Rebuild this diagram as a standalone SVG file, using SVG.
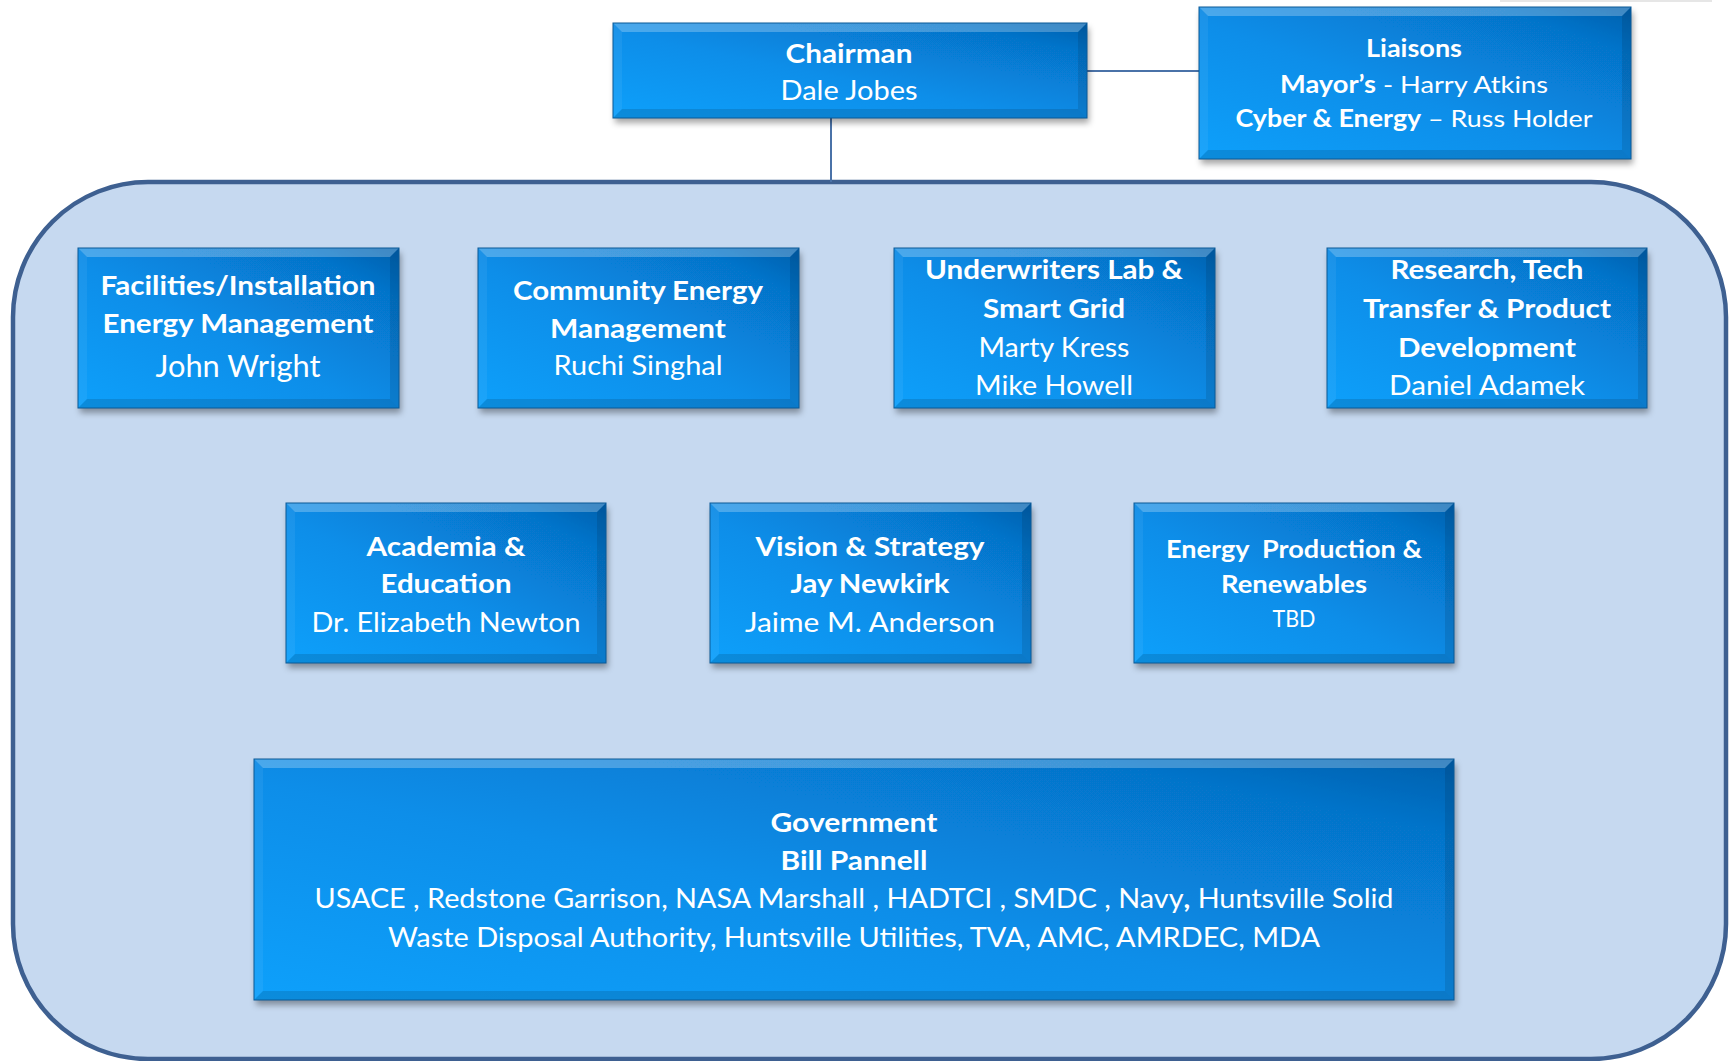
<svg xmlns="http://www.w3.org/2000/svg" width="1733" height="1061" viewBox="0 0 1733 1061">
<defs>
<linearGradient id="g" x1="0" y1="1" x2="1" y2="0">
<stop offset="0" stop-color="#0aa0fb"/>
<stop offset="0.45" stop-color="#088ee9"/>
<stop offset="0.85" stop-color="#0673c9"/>
<stop offset="1" stop-color="#0560ad"/>
</linearGradient>
<filter id="sh" x="-5%" y="-10%" width="112%" height="125%">
<feDropShadow dx="2" dy="5" stdDeviation="3" flood-color="#000" flood-opacity="0.35"/>
</filter>
</defs>
<style>
.face{fill:url(#g);filter:url(#sh)}
.bt{fill:#ffffff;fill-opacity:0.25}
.bl{fill:#ffffff;fill-opacity:0.06}
.br{fill:#000000;fill-opacity:0.1}
.bb{fill:#000000;fill-opacity:0.12}
.edge{fill:none;stroke:#0b5a98;stroke-width:1}
.conn{stroke:#4a72a8;stroke-width:2;fill:none}
text{fill:#ffffff;font-family:Lato,"Liberation Sans",sans-serif;text-anchor:middle}
.b{font-weight:bold;font-size:26px}
.r{font-weight:normal;font-size:26px}
</style>
<line x1="1500" y1="1" x2="1712" y2="1" stroke="#e6e6e6" stroke-width="2"/>
<rect id="container" x="13" y="182" width="1713" height="877" rx="135" ry="135" fill="#c6d9f0" stroke="#3e6091" stroke-width="4.5"/>
<g id="connectors">
<line class="conn" x1="831" y1="118" x2="831" y2="182"/>
<line class="conn" x1="1087" y1="71" x2="1199" y2="71"/>
</g>
<g id="chairman">
<rect class="face" x="613" y="23" width="474" height="95"/>
<polygon class="bt" points="613,23 1087,23 1078,32 622,32"/>
<polygon class="bl" points="613,23 622,32 622,109 613,118"/>
<polygon class="br" points="1087,23 1087,118 1078,109 1078,32"/>
<polygon class="bb" points="613,118 622,109 1078,109 1087,118"/>
<rect class="edge" x="613" y="23" width="474" height="95"/>
<text class="b" x="849" y="63" textLength="127" lengthAdjust="spacingAndGlyphs">Chairman</text>
<text class="r" x="849" y="100" textLength="137" lengthAdjust="spacingAndGlyphs">Dale Jobes</text>
</g>
<g id="liaisons">
<rect class="face" x="1199" y="7" width="432" height="152"/>
<polygon class="bt" points="1199,7 1631,7 1622,16 1208,16"/>
<polygon class="bl" points="1199,7 1208,16 1208,150 1199,159"/>
<polygon class="br" points="1631,7 1631,159 1622,150 1622,16"/>
<polygon class="bb" points="1199,159 1208,150 1622,150 1631,159"/>
<rect class="edge" x="1199" y="7" width="432" height="152"/>
<text class="b" x="1414" y="57" style="font-size:24px" textLength="96" lengthAdjust="spacingAndGlyphs">Liaisons</text>
<text class="r" x="1414" y="93" style="font-size:24px" textLength="268" lengthAdjust="spacingAndGlyphs"><tspan font-weight="bold">Mayor’s</tspan> - Harry Atkins</text>
<text class="r" x="1414" y="127" style="font-size:24px" textLength="357" lengthAdjust="spacingAndGlyphs"><tspan font-weight="bold">Cyber &amp; Energy</tspan> – Russ Holder</text>
</g>
<g id="facilities">
<rect class="face" x="78" y="248" width="321" height="160"/>
<polygon class="bt" points="78,248 399,248 390,257 87,257"/>
<polygon class="bl" points="78,248 87,257 87,399 78,408"/>
<polygon class="br" points="399,248 399,408 390,399 390,257"/>
<polygon class="bb" points="78,408 87,399 390,399 399,408"/>
<rect class="edge" x="78" y="248" width="321" height="160"/>
<text class="b" x="238" y="295" textLength="275" lengthAdjust="spacingAndGlyphs">Facilities/Installation</text>
<text class="b" x="238" y="333" textLength="271" lengthAdjust="spacingAndGlyphs">Energy Management</text>
<text class="r" x="238" y="377" style="font-size:31px" textLength="165" lengthAdjust="spacingAndGlyphs">John Wright</text>
</g>
<g id="community">
<rect class="face" x="478" y="248" width="321" height="160"/>
<polygon class="bt" points="478,248 799,248 790,257 487,257"/>
<polygon class="bl" points="478,248 487,257 487,399 478,408"/>
<polygon class="br" points="799,248 799,408 790,399 790,257"/>
<polygon class="bb" points="478,408 487,399 790,399 799,408"/>
<rect class="edge" x="478" y="248" width="321" height="160"/>
<text class="b" x="638" y="300" textLength="250" lengthAdjust="spacingAndGlyphs">Community Energy</text>
<text class="b" x="638" y="338" textLength="176" lengthAdjust="spacingAndGlyphs">Management</text>
<text class="r" x="638" y="375" textLength="169" lengthAdjust="spacingAndGlyphs">Ruchi Singhal</text>
</g>
<g id="underwriters">
<rect class="face" x="894" y="248" width="321" height="160"/>
<polygon class="bt" points="894,248 1215,248 1206,257 903,257"/>
<polygon class="bl" points="894,248 903,257 903,399 894,408"/>
<polygon class="br" points="1215,248 1215,408 1206,399 1206,257"/>
<polygon class="bb" points="894,408 903,399 1206,399 1215,408"/>
<rect class="edge" x="894" y="248" width="321" height="160"/>
<text class="b" x="1054" y="279" textLength="258" lengthAdjust="spacingAndGlyphs">Underwriters Lab &amp;</text>
<text class="b" x="1054" y="318" textLength="142" lengthAdjust="spacingAndGlyphs">Smart Grid</text>
<text class="r" x="1054" y="357" textLength="151" lengthAdjust="spacingAndGlyphs">Marty Kress</text>
<text class="r" x="1054" y="395" textLength="158" lengthAdjust="spacingAndGlyphs">Mike Howell</text>
</g>
<g id="research">
<rect class="face" x="1327" y="248" width="320" height="160"/>
<polygon class="bt" points="1327,248 1647,248 1638,257 1336,257"/>
<polygon class="bl" points="1327,248 1336,257 1336,399 1327,408"/>
<polygon class="br" points="1647,248 1647,408 1638,399 1638,257"/>
<polygon class="bb" points="1327,408 1336,399 1638,399 1647,408"/>
<rect class="edge" x="1327" y="248" width="320" height="160"/>
<text class="b" x="1487" y="279" textLength="193" lengthAdjust="spacingAndGlyphs">Research, Tech</text>
<text class="b" x="1487" y="318" textLength="248" lengthAdjust="spacingAndGlyphs">Transfer &amp; Product</text>
<text class="b" x="1487" y="357" textLength="178" lengthAdjust="spacingAndGlyphs">Development</text>
<text class="r" x="1487" y="395" textLength="196" lengthAdjust="spacingAndGlyphs">Daniel Adamek</text>
</g>
<g id="academia">
<rect class="face" x="286" y="503" width="320" height="160"/>
<polygon class="bt" points="286,503 606,503 597,512 295,512"/>
<polygon class="bl" points="286,503 295,512 295,654 286,663"/>
<polygon class="br" points="606,503 606,663 597,654 597,512"/>
<polygon class="bb" points="286,663 295,654 597,654 606,663"/>
<rect class="edge" x="286" y="503" width="320" height="160"/>
<text class="b" x="446" y="556" textLength="159" lengthAdjust="spacingAndGlyphs">Academia &amp;</text>
<text class="b" x="446" y="593" textLength="131" lengthAdjust="spacingAndGlyphs">Education</text>
<text class="r" x="446" y="632" textLength="269" lengthAdjust="spacingAndGlyphs">Dr. Elizabeth Newton</text>
</g>
<g id="vision">
<rect class="face" x="710" y="503" width="321" height="160"/>
<polygon class="bt" points="710,503 1031,503 1022,512 719,512"/>
<polygon class="bl" points="710,503 719,512 719,654 710,663"/>
<polygon class="br" points="1031,503 1031,663 1022,654 1022,512"/>
<polygon class="bb" points="710,663 719,654 1022,654 1031,663"/>
<rect class="edge" x="710" y="503" width="321" height="160"/>
<text class="b" x="870" y="556" textLength="229" lengthAdjust="spacingAndGlyphs">Vision &amp; Strategy</text>
<text class="b" x="870" y="593" textLength="159" lengthAdjust="spacingAndGlyphs">Jay Newkirk</text>
<text class="r" x="870" y="632" textLength="250" lengthAdjust="spacingAndGlyphs">Jaime M. Anderson</text>
</g>
<g id="energy">
<rect class="face" x="1134" y="503" width="320" height="160"/>
<polygon class="bt" points="1134,503 1454,503 1445,512 1143,512"/>
<polygon class="bl" points="1134,503 1143,512 1143,654 1134,663"/>
<polygon class="br" points="1454,503 1454,663 1445,654 1445,512"/>
<polygon class="bb" points="1134,663 1143,654 1445,654 1454,663"/>
<rect class="edge" x="1134" y="503" width="320" height="160"/>
<text class="b" x="1294" y="558" style="font-size:25px;white-space:pre" textLength="256" lengthAdjust="spacingAndGlyphs">Energy  Production &amp;</text>
<text class="b" x="1294" y="593" style="font-size:25px" textLength="146" lengthAdjust="spacingAndGlyphs">Renewables</text>
<text class="r" x="1294" y="627" style="font-size:24px" textLength="43" lengthAdjust="spacingAndGlyphs">TBD</text>
</g>
<g id="government">
<rect class="face" x="254" y="759" width="1200" height="241"/>
<polygon class="bt" points="254,759 1454,759 1445,768 263,768"/>
<polygon class="bl" points="254,759 263,768 263,991 254,1000"/>
<polygon class="br" points="1454,759 1454,1000 1445,991 1445,768"/>
<polygon class="bb" points="254,1000 263,991 1445,991 1454,1000"/>
<rect class="edge" x="254" y="759" width="1200" height="241"/>
<text class="b" x="854" y="832" textLength="167" lengthAdjust="spacingAndGlyphs">Government</text>
<text class="b" x="854" y="870" textLength="147" lengthAdjust="spacingAndGlyphs">Bill Pannell</text>
<text class="r" x="854" y="908" textLength="1079" lengthAdjust="spacingAndGlyphs">USACE , Redstone Garrison, NASA Marshall , HADTCI , SMDC , Navy<tspan font-weight="bold">,</tspan> Huntsville Solid</text>
<text class="r" x="854" y="947" textLength="932" lengthAdjust="spacingAndGlyphs">Waste Disposal Authority, Huntsville Utilities, TVA, AMC, AMRDEC, MDA</text>
</g>
</svg>
